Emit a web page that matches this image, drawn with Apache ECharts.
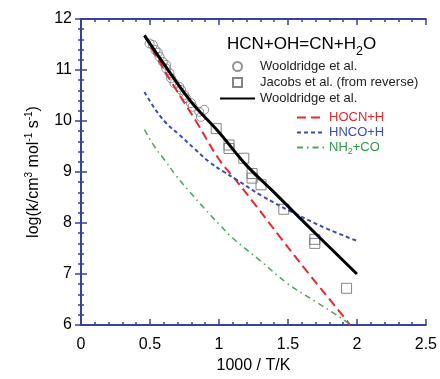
<!DOCTYPE html>
<html><head><meta charset="utf-8">
<script src="https://cdn.jsdelivr.net/npm/echarts@6/dist/echarts.min.js"></script>
<style>html,body{margin:0;padding:0;background:#fff}#c{width:440px;height:379px}</style>
</head><body><div id="c"></div>
<script>
// Data: [1000/T, log k]
const wooldridgeExp = [[0.497,11.52],[0.521,11.49],[0.540,11.39],[0.557,11.34],[0.569,11.26],[0.593,11.16],[0.617,11.10],[0.617,11.03],[0.641,10.94],[0.653,10.84],[0.677,10.74],[0.713,10.67],[0.725,10.61],[0.749,10.51],[0.761,10.45],[0.797,10.35],[0.809,10.28],[0.857,10.18],[0.893,10.22],[0.869,10.08]];
const jacobs = [[0.98,9.85],[1.073,9.53],[1.073,9.46],[1.18,9.27],[1.24,8.97],[1.24,8.88],[1.305,8.75],[1.47,8.27],[1.695,7.68],[1.695,7.60],[1.925,6.72]];
const wooldridgeFit = [[0.46,11.68],[0.6,11.12],[0.8,10.37],[1.0,9.78],[1.2,9.13],[1.4,8.6],[1.6,8.06],[1.8,7.53],[2.0,7.0]];
const hocnH = [[0.46,11.67],[0.55,11.25],[0.665,10.72],[0.833,10.0],[1.0,9.25],[1.12,8.85],[1.254,8.39],[1.45,7.7],[1.638,7.05],[1.914,6.13],[1.95,6.0]];
const hncoH = [[0.46,10.57],[0.533,10.25],[0.617,9.96],[0.713,9.73],[0.821,9.46],[0.929,9.2],[1.037,9.0],[1.11,8.88],[1.313,8.53],[1.54,8.2],[1.79,7.88],[2.0,7.65]];
const nh2CO = [[0.46,9.83],[0.533,9.5],[0.605,9.24],[0.689,8.93],[0.785,8.62],[0.893,8.29],[1.0,7.98],[1.097,7.71],[1.3,7.26],[1.494,6.82],[1.7,6.46],[1.89,6.13],[1.94,6.03]];

const FONT = 'Liberation Sans, Arial, sans-serif';
const AX = '#34449c';
const chart = echarts.init(document.getElementById('c'), null, {renderer:'canvas'});
function axisCommon(extra){
  return Object.assign({
    axisLine:{show:true,lineStyle:{color:AX,width:2}},
    axisTick:{show:true,inside:true,length:6,lineStyle:{color:AX,width:1.5}},
    minorTick:{show:true,splitNumber:5,length:3,lineStyle:{color:AX,width:1.5}},
    splitLine:{show:false}
  }, extra);
}
const hideSym = {opacity:0};
chart.setOption({
  animation:false,
  backgroundColor:'#fff',
  textStyle:{fontFamily:FONT},
  title:{
    text:'HCN+OH=CN+H{sub|2}O', left:222, top:26,
    textStyle:{fontFamily:FONT,fontSize:17,fontWeight:'normal',color:'#000',
      rich:{sub:{fontFamily:FONT,fontSize:12.5,color:'#000',padding:[14,0,0,0]}}}
  },
  grid:{left:81,right:12,top:19,bottom:54},
  xAxis:[
    axisCommon({type:'value',min:0,max:2.5,interval:0.5,position:'bottom',
      name:'1000 / T/K',nameLocation:'middle',nameGap:32,
      nameTextStyle:{fontFamily:FONT,fontSize:16,color:'#000'},
      axisLabel:{fontFamily:FONT,fontSize:16,color:'#000',margin:12}}),
    axisCommon({type:'value',min:0,max:2.5,interval:0.5,position:'top',axisLabel:{show:false}})
  ],
  yAxis:[
    axisCommon({type:'value',min:6,max:12,interval:1,position:'left',
      name:'log(k/cm{sup|3} mol{sup|-1} s{sup|-1})',nameLocation:'middle',nameGap:38,
      nameTextStyle:{fontFamily:FONT,fontSize:16,color:'#000',
        rich:{sup:{fontFamily:FONT,fontSize:10,color:'#000',padding:[0,0,9,0]}}},
      axisLabel:{fontFamily:FONT,fontSize:16,color:'#000',margin:9}}),
    axisCommon({type:'value',min:6,max:12,interval:1,position:'right',axisLabel:{show:false}})
  ],
  legend:[
    {orient:'vertical',left:219,top:60,padding:0,itemWidth:35,itemHeight:9,itemGap:3,
     data:[{name:'Wooldridge et al.'},
           {name:'Jacobs et al. (from reverse)',icon:'path://M0,0H10V10H0Z'},
           {name:'Wooldridge fit',itemStyle:hideSym}],
     formatter:n=> n==='Wooldridge fit'?'Wooldridge et al.':n,
     textStyle:{fontFamily:FONT,fontSize:13,color:'#222',lineHeight:13}},
    {orient:'vertical',left:296,top:111,padding:0,itemWidth:27,itemHeight:10,itemGap:2,
     data:[{name:'HOCN+H',itemStyle:hideSym,textStyle:{color:'#e8282a'}},
           {name:'HNCO+H',itemStyle:hideSym,textStyle:{color:'#3c4bb5'}},
           {name:'NH2+CO',itemStyle:hideSym,textStyle:{color:'#2e9a45'}}],
     formatter:n=> n==='NH2+CO'?'NH{sub|2}+CO':n,
     textStyle:{fontFamily:FONT,fontSize:13,lineHeight:13,
       rich:{sub:{fontFamily:FONT,fontSize:9,color:'#2e9a45',padding:[8,0,0,0]}}}}
  ],
  series:[
    {name:'Wooldridge et al.',type:'scatter',data:wooldridgeExp,symbol:'circle',symbolSize:9,z:2,
     itemStyle:{color:'rgba(255,255,255,0)',borderColor:'#777',borderWidth:1}},
    {name:'Jacobs et al. (from reverse)',type:'scatter',data:jacobs,symbol:'rect',symbolSize:10,z:2,
     itemStyle:{color:'rgba(255,255,255,0)',borderColor:'#666',borderWidth:1}},
    {name:'Wooldridge fit',type:'line',data:wooldridgeFit,smooth:0.4,symbol:'none',z:5,
     lineStyle:{color:'#000',width:3},itemStyle:{color:'#000'}},
    {name:'HOCN+H',type:'line',data:hocnH,smooth:0.4,symbol:'none',z:4,
     lineStyle:{color:'#e8282a',width:2,type:[9,5]},itemStyle:{color:'#e8282a'}},
    {name:'HNCO+H',type:'line',data:hncoH,smooth:0.4,symbol:'none',z:4,
     lineStyle:{color:'#3c4bb5',width:2,type:[4,3]},itemStyle:{color:'#3c4bb5'}},
    {name:'NH2+CO',type:'line',data:nh2CO,smooth:0.4,symbol:'none',z:4,
     lineStyle:{color:'#4aa55a',width:1.5,type:[6,4,1.5,4]},itemStyle:{color:'#4aa55a'}}
  ]
});
</script></body></html>
